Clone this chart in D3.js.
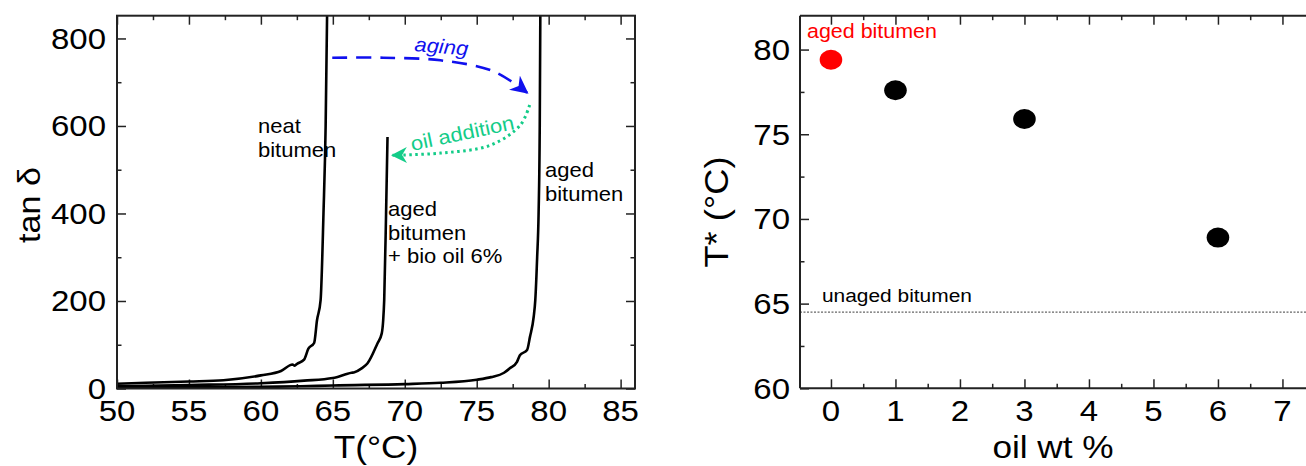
<!DOCTYPE html>
<html>
<head>
<meta charset="utf-8">
<script src="https://d3js.org/d3.v7.min.js"></script>
<style>
  body { margin: 0; background: #fff; }
  svg { display: block; font-family: "Liberation Sans", Arial, sans-serif; }
</style>
</head>
<body>
<svg width="1306" height="466"></svg>
<script>
// left panel: tan delta vs temperature
var tempNeat = [50, 52, 55, 57.4, 60, 61.4, 62.2, 62.35, 62.5, 63.0, 63.3, 63.7, 63.9, 64.15, 64.35, 64.5, 64.6];
var tanNeat  = [11, 13, 16, 19, 30, 40, 55, 52, 56, 66, 91, 104, 156, 202, 400, 600, 852];

var tempAgedOil = [50, 55, 60, 63, 65, 66.3, 66.5, 67.0, 67.4, 68.1, 68.4, 68.5, 68.57, 68.7, 68.8];
var tanAgedOil  = [5, 8, 12, 18, 24, 36, 37, 46, 57, 103, 126, 156, 202, 400, 575];

var tempAged = [50, 55, 60, 62.75, 65, 70, 72.5, 75, 76, 76.9, 77.3, 77.8, 78.0, 78.5, 78.7, 78.96, 79.07, 79.2, 79.3, 79.38, 79.42];
var tanAged  = [2, 3, 4, 5, 7, 10, 13, 20, 26, 36, 46, 61, 76, 88, 118, 164, 202, 300, 400, 600, 852];

// arrows in data units (T, tan delta)
var agingArrowT   = [64.96, 68.5, 72.48, 76.16, 78.5];
var agingArrowTan = [756, 756, 750, 725, 676];
var oilArrowT     = [78.68, 78.03, 75.95, 72.48, 69.15];
var oilArrowTan   = [648, 602, 556, 538, 533];

// right panel: T* vs oil content
var oilWt    = [0, 1, 3, 6];
var tStar    = [79.4, 77.6, 75.9, 68.9];
var dotColor = ["#ff0000", "#000", "#000", "#000"];
var unagedT  = 64.5;

var svg = d3.select("svg");
var frameColor = "#222";
var sx = 1.1; // the original lettering is a bit wide

function txt(g, x, y, str, size, anchor, rot, color, italic) {
  var tr = "translate(" + x + "," + y + ")" + (rot ? " rotate(" + rot + ")" : "") + " scale(" + sx + ",1)";
  return g.append("text").attr("transform", tr)
    .attr("text-anchor", anchor || "start").attr("font-size", size)
    .attr("fill", color || "#000").attr("font-style", italic ? "italic" : null)
    .text(str);
}

function ticksAxis(g, scale, orient, major, minor, len) {
  // inward ticks
  var mk = function(vals, l) {
    var ax;
    if (orient === "bottom") ax = d3.axisTop(scale);
    if (orient === "top") ax = d3.axisBottom(scale);
    if (orient === "left") ax = d3.axisRight(scale);
    if (orient === "right") ax = d3.axisLeft(scale);
    return ax.tickValues(vals).tickSize(l).tickFormat("");
  };
  g.append("g").call(mk(minor, len / 2));
  g.append("g").call(mk(major, len));
  g.selectAll(".domain").remove();
  g.selectAll("line").attr("stroke", frameColor).attr("stroke-width", 1.5);
}

// ---------- left panel ----------
var x1 = d3.scaleLinear().domain([50, 86]).range([117, 635]);
var y1 = d3.scaleLinear().domain([0, 852]).range([388.5, 15.7]);

var L = svg.append("g");
L.append("clipPath").attr("id", "clipL").append("rect")
  .attr("x", 117).attr("y", 15.7).attr("width", 518).attr("height", 372.8);

var xMaj1 = d3.range(50, 86, 5), xMin1 = d3.range(52.5, 86, 5);
var yMaj1 = d3.range(0, 801, 200), yMin1 = d3.range(100, 801, 200);

ticksAxis(L.append("g").attr("transform", "translate(0,388.5)"), x1, "bottom", xMaj1, xMin1, 9);
ticksAxis(L.append("g").attr("transform", "translate(0,15.7)"), x1, "top", xMaj1, xMin1, 9);
ticksAxis(L.append("g").attr("transform", "translate(117,0)"), y1, "left", yMaj1, yMin1, 9);
ticksAxis(L.append("g").attr("transform", "translate(635,0)"), y1, "right", yMaj1, yMin1, 9);

xMaj1.forEach(function(d) { txt(L, x1(d), 421, d, 30, "middle"); });
yMaj1.forEach(function(d) { txt(L, 106, y1(d) + 10.5, d, 30, "end"); });

var curveLine = d3.line()
  .x(function(d) { return x1(d[0]); })
  .y(function(d) { return y1(d[1]); })
  .curve(d3.curveMonotoneX);

var curves = [d3.zip(tempNeat, tanNeat), d3.zip(tempAgedOil, tanAgedOil), d3.zip(tempAged, tanAged)];
L.append("g").attr("clip-path", "url(#clipL)").selectAll("path").data(curves).join("path")
  .attr("d", curveLine).attr("fill", "none").attr("stroke", "#000")
  .attr("stroke-width", 2.6).attr("stroke-linejoin", "round");

L.append("rect").attr("x", 117).attr("y", 15.7).attr("width", 518).attr("height", 372.8)
  .attr("fill", "none").attr("stroke", frameColor).attr("stroke-width", 2);

// arrows
var defs = svg.append("defs");
defs.append("marker").attr("id", "headBlue").attr("viewBox", "0 0 10 10")
  .attr("refX", 9).attr("refY", 5).attr("markerWidth", 18).attr("markerHeight", 18)
  .attr("markerUnits", "userSpaceOnUse").attr("orient", "auto")
  .append("path").attr("d", "M0,0 L10,5 L0,10 L3,5 Z").attr("fill", "#1010ee");
defs.append("marker").attr("id", "headGreen").attr("viewBox", "0 0 10 10")
  .attr("refX", 9).attr("refY", 5).attr("markerWidth", 16).attr("markerHeight", 16)
  .attr("markerUnits", "userSpaceOnUse").attr("orient", "auto")
  .append("path").attr("d", "M0,0 L10,5 L0,10 L3,5 Z").attr("fill", "#13cc88");

var arrowLine = d3.line()
  .x(function(d) { return x1(d[0]); })
  .y(function(d) { return y1(d[1]); })
  .curve(d3.curveCatmullRom);

L.append("path").datum(d3.zip(agingArrowT, agingArrowTan))
  .attr("d", arrowLine).attr("fill", "none").attr("stroke", "#1010ee")
  .attr("stroke-width", 2.6).attr("stroke-dasharray", "15,9")
  .attr("marker-end", "url(#headBlue)");
L.append("path").datum(d3.zip(oilArrowT, oilArrowTan))
  .attr("d", arrowLine).attr("fill", "none").attr("stroke", "#13cc88")
  .attr("stroke-width", 3).attr("stroke-dasharray", "2.5,3.5")
  .attr("marker-end", "url(#headGreen)");

txt(L, x1(72.5), y1(766), "aging", 20, "middle", 5, "#1010ee", true);
txt(L, x1(74.1), y1(568), "oil addition", 20, "middle", -12, "#13cc88");

function block(g, x, y, lines) {
  lines.forEach(function(s, i) { txt(g, x, y + i * 23.5, s, 20); });
}
block(L, 258, 133, ["neat", "bitumen"]);
block(L, 388, 216, ["aged", "bitumen", "+ bio oil 6%"]);
block(L, 545, 177, ["aged", "bitumen"]);

txt(L, 376, 458, "T(°C)", 32, "middle");
txt(L, 40, 205, "tan δ", 31, "middle", -90);

// ---------- right panel ----------
var x2 = d3.scaleLinear().domain([-0.48, 7.5]).range([800, 1314.7]);
var y2 = d3.scaleLinear().domain([60, 82]).range([388.3, 15.7]);

var R = svg.append("g");
var xMaj2 = d3.range(0, 8), xMin2 = d3.range(0.5, 7.5, 1);
var yMaj2 = d3.range(60, 81, 5), yMin2 = d3.range(62.5, 81, 5);

ticksAxis(R.append("g").attr("transform", "translate(0,388.3)"), x2, "bottom", xMaj2, xMin2, 9);
ticksAxis(R.append("g").attr("transform", "translate(0,15.7)"), x2, "top", xMaj2, xMin2, 9);
ticksAxis(R.append("g").attr("transform", "translate(800,0)"), y2, "left", yMaj2, yMin2, 9);

xMaj2.forEach(function(d) { txt(R, x2(d), 421, d, 30, "middle"); });
yMaj2.forEach(function(d) { txt(R, 790, y2(d) + 10.5, d, 30, "end"); });

R.append("line").attr("x1", 800).attr("x2", 1306)
  .attr("y1", y2(unagedT)).attr("y2", y2(unagedT))
  .attr("stroke", "#666").attr("stroke-width", 1.3).attr("stroke-dasharray", "2,1.5");
txt(R, 822, 302, "unaged bitumen", 19);

R.append("g").selectAll("ellipse").data(oilWt).join("ellipse")
  .attr("cx", function(d) { return x2(d); })
  .attr("cy", function(d, i) { return y2(tStar[i]); })
  .attr("rx", 11.3).attr("ry", 10)
  .attr("fill", function(d, i) { return dotColor[i]; });

txt(R, 807, 38, "aged bitumen", 19.5, "start", 0, "#ff0000");

R.append("line").attr("x1", 800).attr("x2", 800).attr("y1", 15.7).attr("y2", 388.3)
  .attr("stroke", frameColor).attr("stroke-width", 2);
R.append("line").attr("x1", 800).attr("x2", 1306).attr("y1", 15.7).attr("y2", 15.7)
  .attr("stroke", frameColor).attr("stroke-width", 2);
R.append("line").attr("x1", 800).attr("x2", 1306).attr("y1", 388.3).attr("y2", 388.3)
  .attr("stroke", frameColor).attr("stroke-width", 2);

txt(R, 1053, 458, "oil wt %", 32, "middle");
txt(R, 728, 212, "T* (°C)", 33, "middle", -90);
</script>
</body>
</html>
